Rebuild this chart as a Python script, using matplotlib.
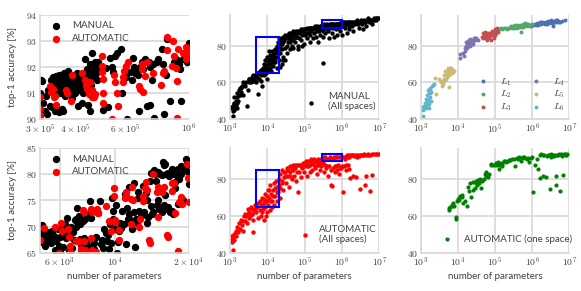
import matplotlib
matplotlib.use("Agg")
import matplotlib.pyplot as plt
import numpy as np
from matplotlib.patches import Rectangle

# --- zoomed panels: parameters in units of 1e5 / 1e3, accuracy in %
zoom_top_man = [
    (3.0,91.0),(3.03,91.5),(3.06,91.45),(3.08,90.6),(3.12,90.3),(3.15,90.9),(3.18,90.2),(3.2,91.1),(3.24,90.5),(3.27,91.5),
    (3.3,91.2),(3.33,91.6),(3.36,91.4),(3.39,91.1),(3.42,91.65),(3.45,91.3),(3.48,90.35),(3.5,91.7),(3.53,91.0),(3.55,91.5),
    (3.58,90.4),(3.6,91.2),(3.63,91.75),(3.66,91.4),(3.68,90.9),(3.7,91.6),(3.73,91.3),(3.76,91.85),(3.78,91.05),(3.8,91.5),
    (3.83,91.7),(3.86,91.2),(3.88,90.8),(3.9,91.45),(3.93,91.65),(3.96,91.3),(3.98,91.0),(4.0,91.55),(4.03,91.75),(4.05,91.25),
    (4.08,90.5),(4.1,91.5),(4.13,91.1),(4.15,91.7),(4.18,91.35),(4.2,90.6),(4.22,91.6),(4.25,91.0),(4.28,91.75),(4.3,91.4),
    (4.33,92.3),(4.36,91.15),(4.38,91.9),(4.4,91.5),(4.43,90.55),(4.46,91.95),(4.48,90.3),(4.5,92.1),(4.53,91.3),(4.56,92.55),
    (4.6,92.05),(4.63,91.6),(4.66,92.2),(4.7,91.85),(4.73,92.1),(4.76,91.5),(4.8,92.2),(5.0,90.35),(5.2,90.45),(5.3,92.35),
    (5.35,92.0),(5.4,91.8),(5.5,92.4),(5.6,92.55),(5.75,92.7),(5.8,91.0),(6.0,91.6),(6.05,90.0),(6.2,91.8),(6.35,92.35),
    (6.4,92.0),(6.55,91.9),(6.7,90.3),(6.85,92.2),(6.9,91.9),(7.0,92.3),(7.1,90.5),(7.25,92.2),(7.3,90.55),(7.4,91.5),
    (7.5,92.1),(7.55,90.05),(7.7,92.2),(7.8,92.3),(8.05,92.7),(8.1,92.1),(8.15,90.2),(8.3,91.7),(8.4,93.05),(8.6,90.7),
    (8.85,92.2),(9.0,92.3),(9.2,92.1),(9.3,91.9),(9.35,90.7),(9.5,92.3),(9.85,92.2),(10.0,92.9),
    (3.35,91.3),(3.4,91.5),(3.44,91.1),(3.47,91.55),(3.52,91.35),(3.56,91.7),(3.6,91.45),(3.64,91.25),(3.68,91.5),(3.72,91.7),
    (3.75,91.15),(3.79,91.3),(3.82,91.45),(3.85,91.55),(3.89,91.15),(3.92,91.35),(3.95,91.5),(3.99,91.25),(4.02,91.4),(4.06,91.6),
    (4.09,91.3),(4.12,91.55),(4.16,91.2),(4.19,91.55),(4.23,91.3),(4.26,91.5),(4.3,91.15),(4.34,91.6),(4.38,91.3),(4.42,91.7),
    (4.45,91.4),(4.49,91.75),(4.52,91.55),(4.56,91.85),(4.6,91.7),(4.64,91.95),(4.68,91.65),(4.72,91.95),(4.76,91.8),(4.8,91.9),
    (3.5,90.25),(3.4,90.3),(3.3,90.45),(3.6,90.3),(5.1,91.95),(6.3,91.5),(6.45,91.75),(6.6,91.7),(6.75,92.0),(7.3,92.0),
]
zoom_top_auto = [
    (3.0,90.85),(3.0,90.4),(3.0,90.1),(3.25,91.25),(3.28,91.05),(3.33,91.15),(3.36,90.85),(3.4,90.9),(3.42,90.55),(3.7,91.1),
    (3.72,91.0),(3.85,90.7),(3.9,91.7),(4.2,91.75),(4.3,91.5),(4.35,91.3),(4.4,91.15),(4.45,90.95),(4.5,91.4),(4.55,91.1),
    (4.55,90.85),(4.65,90.85),(4.68,90.95),(4.95,92.4),(4.95,92.05),(4.95,91.8),(4.98,91.55),(5.0,91.0),(5.0,90.6),(5.35,90.0),
    (5.45,91.7),(5.5,91.4),(5.6,91.0),(5.65,90.5),(5.85,91.4),(5.85,91.6),(5.9,91.85),(6.0,92.05),(6.1,92.2),(6.65,91.25),
    (6.75,91.15),(6.85,91.9),(6.85,92.1),(6.9,91.05),(7.0,91.65),(7.15,92.2),(7.5,91.75),(7.95,91.3),(8.1,91.75),(8.2,91.85),
    (8.35,93.15),(8.35,92.65),(8.75,92.05),(8.8,93.0),(8.85,92.4),(9.0,91.95),(9.05,91.45),(9.1,90.05),(9.15,92.7),(9.5,92.55),
    (9.75,92.3),(9.8,92.75),(10.0,92.6),(10.0,92.45),
]
zoom_bot_man = [
    (5.0,67.8),(5.05,69.2),(5.1,70.3),(5.15,68.5),(5.2,67.0),(5.25,66.3),(5.3,69.0),(5.35,67.5),(5.4,68.3),(5.5,68.9),
    (5.55,66.9),(5.6,69.2),(5.7,68.2),(5.75,65.5),(5.8,67.3),(5.9,69.5),(5.95,66.3),(6.0,65.2),(6.05,68.0),(6.15,69.5),
    (6.2,66.0),(6.3,70.5),(6.35,67.8),(6.4,71.6),(6.5,69.0),(6.55,65.3),(6.6,68.4),(6.7,70.0),(6.75,65.9),(6.85,67.5),
    (6.9,71.2),(7.0,69.9),(7.05,73.6),(7.1,70.8),(7.2,72.0),(7.25,67.7),(7.3,66.5),(7.35,65.5),(7.45,71.0),(7.55,67.9),
    (7.6,71.5),(7.7,67.2),(7.8,66.3),(7.9,72.3),(7.95,74.9),(8.0,71.7),(8.1,66.0),(8.2,67.5),(8.3,66.8),(8.45,68.0),
    (8.6,72.6),(8.75,74.8),(8.9,67.4),(9.0,65.9),(9.1,69.6),(9.3,67.3),(9.4,68.3),(9.5,65.7),(9.6,70.4),(9.7,66.8),
    (9.8,75.5),(9.9,72.9),(10.0,69.5),(10.1,74.2),(10.2,65.0),(10.3,67.0),(10.4,69.2),(10.6,69.7),(10.7,73.0),(10.9,70.4),
    (11.0,76.3),(11.1,66.7),(11.2,73.5),(11.3,71.5),(11.4,77.5),(11.6,71.2),(11.8,69.5),(12.0,78.4),(12.1,66.1),(12.3,70.6),
    (12.4,76.5),(12.6,73.0),(12.8,72.0),(13.0,77.7),(13.2,72.7),(13.4,76.4),(13.5,70.7),(13.7,71.9),(13.9,78.7),(14.1,80.2),
    (14.3,72.8),(14.5,80.8),(14.7,78.7),(14.9,74.2),(15.1,73.4),(15.3,80.0),(15.5,72.7),(15.7,82.4),(15.8,74.2),(16.0,82.0),
    (16.2,80.0),(16.4,73.7),(16.6,79.7),(16.8,72.7),(17.0,80.5),(17.2,72.3),(17.4,80.0),(17.6,77.3),(17.8,80.8),(18.0,74.3),
    (18.3,79.0),(18.6,81.5),(19.0,75.0),(19.4,82.9),(19.7,81.7),(20.0,78.1),
    (5.1,67.0),(5.3,68.0),(5.45,67.2),(5.65,67.8),(6.2,68.2),(6.8,69.0),(7.0,71.5),(7.25,70.5),(7.5,66.8),(7.75,65.6),
    (8.3,65.8),(8.85,66.6),(9.2,68.8),(9.85,71.5),(10.5,70.7),(11.4,72.3),(12.0,72.7),(12.2,71.5),(14.2,72.3),(14.6,80.0),
    (15.0,80.4),(15.5,79.8),(15.8,81.7),(16.0,73.4),(16.5,80.3),(17.0,81.0),(17.5,78.5),(18.0,81.0),(18.5,80.0),(19.2,81.0),
    (19.7,82.3),(19.9,80.5),(16.0,76.0),(15.0,75.0),(17.0,73.0),(18.0,79.5),(12.5,75.5),(13.5,75.0),(14.0,74.0),
]
zoom_bot_auto = [
    (5.0,67.5),(5.2,69.8),(5.75,70.0),(5.95,65.0),(6.1,70.6),(6.15,69.1),(6.5,69.5),(6.55,68.0),(6.6,66.3),(6.6,65.2),
    (7.0,67.3),(7.2,67.2),(7.3,65.7),(7.45,73.2),(7.5,72.8),(7.55,67.3),(7.6,65.5),(8.05,67.9),(8.05,73.4),(8.1,72.8),
    (8.1,65.6),(8.5,73.3),(8.55,72.6),(8.45,65.2),(9.2,73.9),(9.5,71.0),(9.7,69.1),(9.95,77.4),(9.95,75.9),(10.0,71.2),
    (10.05,70.8),(10.4,69.3),(10.45,67.5),(11.05,75.5),(11.1,76.5),(11.15,75.9),(11.65,70.5),(11.7,75.3),(11.8,77.5),(11.85,75.0),
    (12.6,70.0),(12.7,71.4),(13.0,74.8),(13.05,75.9),(13.25,77.3),(13.4,78.6),(13.5,76.9),(13.8,67.5),(13.85,66.8),(14.3,80.0),
    (14.9,76.5),(15.0,71.8),(15.0,77.5),(15.6,76.6),(15.9,77.5),(16.3,68.3),(16.4,68.0),(17.0,78.4),(17.1,76.8),(17.35,78.4),
    (17.5,72.6),(18.0,65.4),(18.2,74.7),(18.6,75.7),(18.8,74.3),(19.7,81.9),(19.85,79.3),(20.0,74.7),
]

# --- all spaces panels: log10(parameters), accuracy in %
man_all = [
    (3.0,46),(3.03,46.5),(3.07,44.5),(3.08,41.5),(3.08,47),(3.1,45),(3.1,48),(3.12,49),(3.13,46),(3.15,50),
    (3.17,47),(3.18,52),(3.2,46),(3.2,54),(3.22,50),(3.25,56),(3.27,53),(3.28,57),(3.3,55),(3.32,58),
    (3.35,53),(3.38,59),(3.4,58),(3.45,47),(3.47,56),(3.5,60),(3.52,62),(3.55,60),(3.58,62),(3.6,63),
    (3.62,60.5),(3.65,62),(3.68,61),(3.7,64),(3.7,60),(3.73,63),(3.75,53.5),(3.75,65),(3.78,62),(3.8,66),
    (3.82,64),(3.83,61),(3.85,65),(3.87,58),(3.88,68),(3.9,64),(3.9,70),(3.93,66),(3.95,72),(3.97,65),
    (3.98,68),(4.0,74),(4.0,62),(4.02,70),(4.03,66),(4.05,73),(4.07,68),(4.08,75),(4.1,66),(4.1,70),
    (4.12,74),(4.13,77),(4.15,69),(4.17,73),(4.18,76),(4.2,71),(4.2,78),(4.22,74),(4.25,80),(4.25,68),
    (4.27,76),(4.28,82),(4.3,72),(4.3,78),(4.32,84),(4.33,80),(4.35,76),(4.37,83),(4.38,78),(4.4,81),
    (4.42,85),(4.43,74),(4.45,83),(4.47,72),(4.48,79),(4.5,85),(4.52,76),(4.55,82),(4.57,84),(4.6,86),
    (4.6,78),(4.63,84),(4.65,80),(4.68,86),(4.7,83),(4.72,87),(4.75,82),(4.78,85),(4.8,87),(4.82,78),
    (4.85,84),(4.88,88),(4.9,83),(4.92,86),(4.95,88),(4.97,81),(5.0,86),(5.02,89),(5.05,84),(5.08,87),
    (5.1,89),(5.13,82),(5.15,86),(5.18,88),(5.2,90),(5.22,84),(5.25,87),(5.28,89),(5.3,90),(5.3,85),
    (5.33,88),(5.35,82),(5.38,90),(5.4,86),(5.43,89),(5.45,91),(5.48,88),(5.5,70.5),(5.5,85),(5.53,90),
    (5.55,87),(5.6,91),(5.62,88),(5.65,84),(5.68,90),(5.7,92),(5.72,87),(5.75,90),(5.78,85),(5.8,92),
    (5.83,89),(5.85,91),(5.88,86),(5.9,92),(5.93,90),(5.95,88),(5.98,92),(6.0,86),(6.02,91),(6.05,93),
    (6.08,90),(6.1,92),(6.13,87),(6.15,93),(6.18,91),(6.2,89),(6.25,93),(6.28,91),(6.3,88),(6.33,93),
    (6.35,92),(6.4,94),(6.43,92),(6.45,90),(6.5,94),(6.53,92),(6.55,89),(6.6,94),(6.63,93),(6.65,91),
    (6.7,95),(6.73,93),(6.78,94),(6.8,92),(6.85,95),(6.9,94),(6.95,95),(7.0,95),(5.17,49),(3.9,66),
    (4.05,77),(4.15,71),(4.35,68.5),(4.38,70),(4.42,72),(4.52,80),(4.62,82),(4.7,79),(4.82,80),(4.92,80),
    (3.12,52),(3.18,49),(3.23,53),(3.3,57),(3.36,60),(3.42,60),(3.5,62),(3.56,62),(3.62,64),(3.68,63),
    (3.72,65),(3.78,65),(3.83,67),(3.88,66),(3.92,68),(3.96,69),(4.0,67),(4.03,71),(4.06,70),(4.09,72),
    (4.12,71),(4.15,75),(4.18,72),(4.22,78),(4.25,77),(4.28,79),(4.32,81),(4.35,81),(4.38,84),(4.42,82),
    (4.45,85),(4.48,86),(4.52,84),(4.55,86),(4.58,87),(4.6,84),(4.63,87),(4.65,86),(4.68,88),(4.7,86),
    (4.73,85),(4.76,88),(4.8,85),(4.83,88),(4.86,87),(4.9,89),(4.93,88),(4.96,89),(5.0,89),(5.03,87),
    (5.06,90),(5.09,89),(5.12,90),(5.15,90),(5.18,90),(5.22,90),(5.25,90),(5.28,91),(5.32,91),(5.35,90),
    (5.38,88),(5.42,91),(5.46,90),(5.5,91),(5.53,92),(5.57,90),(5.6,92),(5.63,91),(5.67,92),(5.7,91),
    (5.73,92),(5.77,92),(5.8,91),(5.83,92),(5.87,92),(5.9,91),(5.93,92),(5.97,93),(6.0,92),(6.03,93),
    (6.07,92),(6.1,93),(6.13,92),(6.17,93),(6.2,92),(6.22,93),(6.27,92),(6.3,93),(6.37,93),(6.42,93),
    (6.47,93),(6.52,93),(6.57,93),(6.62,93),(6.67,94),(6.72,94),(6.75,94),(6.82,94),(6.87,94),(6.92,95),
]
auto_all = [
    (3.0,47),(3.02,49),(3.05,46),(3.07,48),(3.08,41.5),(3.1,50),(3.12,47),(3.15,52),(3.17,49),(3.2,54),
    (3.22,51),(3.25,56),(3.27,53),(3.3,58),(3.33,55),(3.35,52),(3.38,60),(3.4,57),(3.43,60),(3.45,56),
    (3.48,64),(3.5,59),(3.52,62),(3.55,65),(3.58,61),(3.6,64),(3.62,58),(3.62,51),(3.65,63),(3.68,66),
    (3.7,62),(3.72,65),(3.75,59),(3.78,67),(3.8,63),(3.82,60),(3.85,66),(3.87,70),(3.88,64),(3.9,58),
    (3.92,69),(3.93,65),(3.95,72),(3.97,60),(4.0,68),(4.0,62),(4.02,74),(4.03,66),(4.05,70),(4.07,63),
    (4.08,77),(4.1,72),(4.12,65),(4.13,68),(4.15,74),(4.17,78),(4.18,66),(4.2,71),(4.22,79),(4.25,76),
    (4.25,68),(4.28,73),(4.3,80),(4.32,77),(4.33,70),(4.35,83),(4.38,78),(4.4,85),(4.42,74),(4.45,81),
    (4.48,84),(4.5,78),(4.53,86),(4.55,82),(4.58,76),(4.6,87),(4.62,84),(4.65,80),(4.68,86),(4.7,88),
    (4.72,82),(4.75,86),(4.78,79),(4.8,88),(4.83,73),(4.85,84),(4.88,88),(4.9,81),(4.92,86),(4.95,89),
    (4.97,84),(5.0,87),(5.0,49.5),(5.03,90),(5.05,82),(5.08,87),(5.1,90),(5.13,84),(5.15,88),(5.18,91),
    (5.2,85),(5.23,89),(5.25,91),(5.28,86),(5.3,90),(5.33,83),(5.35,91),(5.38,88),(5.4,85),(5.43,91),
    (5.45,87),(5.48,92),(5.5,89),(5.53,84),(5.55,92),(5.58,86),(5.6,91),(5.63,82),(5.65,87),(5.68,92),
    (5.7,77),(5.72,76.5),(5.75,86),(5.78,92),(5.8,84),(5.83,92),(5.85,87),(5.88,85),(5.9,92),(5.93,83),
    (5.95,92),(5.98,86),(6.0,92),(6.02,72.8),(6.05,87),(6.08,91),(6.1,85),(6.13,93),(6.15,88),(6.18,85.5),
    (6.2,93),(6.22,80.5),(6.28,93),(6.3,81.5),(6.33,92.5),(6.37,81),(6.4,93),(6.45,92.5),(6.48,74.8),(6.52,93),
    (6.58,93.5),(6.63,76.7),(6.65,82),(6.7,93),(6.75,73.7),(6.8,82.2),(6.85,93.5),(6.9,94),(6.95,93.5),(7.0,94),
    (3.13,50),(3.24,53),(3.32,57),(3.4,61),(3.47,61),(3.53,60),(3.6,61),(3.67,64),(3.73,67),(3.8,68),
    (3.85,62),(3.9,67),(3.95,68),(4.0,71),(4.05,74),(4.1,68),(4.15,71),(4.2,75),(4.25,73),(4.3,75),
    (4.35,75),(4.4,79),(4.45,84),(4.5,82),(4.55,85),(4.6,82),(4.65,86),(4.7,85),(4.75,88),(4.8,84),
    (4.85,88),(4.9,87),(4.95,87),(5.0,89),(5.05,88),(5.1,87),(5.15,90),(5.2,89),(5.25,88),(5.3,87),
    (5.35,89),(5.4,90),(5.45,89),(5.5,91),(5.55,88),(5.6,87),(5.65,91),(5.7,85),(5.75,91),(5.8,87),
    (5.85,92),(5.9,88),(5.95,86),(6.0,87),(6.05,92),(6.1,88),(6.15,92),(6.2,92),(6.25,93),(6.3,93),
    (6.35,93),(6.4,92),(6.45,93),(6.5,93),(6.55,93),(6.6,93),(6.65,93),(6.7,94),(6.75,93),(6.8,94),
]

# --- right panels
level_names = ["$L_1$", "$L_2$", "$L_3$", "$L_4$", "$L_5$", "$L_6$"]
level_colors = ["#4c72b0", "#55a868", "#c44e52", "#8172b2", "#ccb974", "#64b5cd"]
level_points = [
    [(5.98,91),(6.02,91.5),(6.07,92),(6.1,91.5),(6.13,92.5),(6.17,92),(6.2,93),(6.23,92),(6.27,92.5),(6.3,93),(6.33,92.5),(6.37,93),(6.4,92),(6.43,93.5),(6.47,93),(6.5,93.5),(6.53,92.5),(6.55,91),(6.58,93.5),(6.6,93),(6.63,94),(6.66,93),(6.7,93.5),(6.75,93),(6.8,93.5),(6.88,94),
     (6.15,91.5),(6.25,93),(6.35,92),(6.45,92.5),(6.52,94),(6.56,93),(6.62,93),(6.68,94),(6.72,93)],
    [(5.1,89),(5.15,89.5),(5.2,89),(5.25,90),(5.3,89.5),(5.33,89),(5.37,90),(5.4,90.5),(5.45,90),(5.48,91),(5.52,90.5),(5.55,91.5),(5.58,90),(5.62,91),(5.65,90.5),(5.68,91.5),(5.7,87.8),(5.73,91),(5.76,92),(5.8,91.5),(5.83,91),(5.87,92),(5.9,92),(5.95,91.5),(6.0,92),
     (5.43,91),(5.5,89.5),(5.6,91.5),(5.7,90.5),(5.75,90.5),(5.8,92.5),(5.85,91.5),(5.92,91)],
    [(4.65,85),(4.67,87),(4.7,86),(4.72,84),(4.74,87.5),(4.76,85),(4.78,83),(4.8,86),(4.82,87),(4.84,85),(4.86,87),(4.88,83),(4.9,86),(4.92,88),(4.94,86),(4.96,84.5),(4.98,87),(5.0,89),(5.0,86),(5.03,88),(5.05,89.5),(5.08,87.5),
     (4.68,84.5),(4.73,86),(4.77,87),(4.8,84.5),(4.83,85.5),(4.87,85.5),(4.91,87),(4.95,87.5),(4.99,88),(5.02,87)],
    [(4.05,73.5),(4.06,75.5),(4.15,76),(4.17,74.5),(4.18,79),(4.2,77),(4.22,80),(4.23,82),(4.25,79),(4.27,81),(4.3,83),(4.32,80),(4.35,82),(4.38,83),(4.4,81),(4.43,84),(4.46,83),(4.5,84.5),(4.53,83),
     (4.24,80.5),(4.28,82.5),(4.33,82),(4.37,81),(4.42,82.5),(4.47,84),(4.33,83.5)],
    [(3.38,62.5),(3.42,53.5),(3.5,62),(3.55,60),(3.57,58),(3.6,59),(3.62,64),(3.64,61),(3.66,66),(3.68,62),(3.7,65),(3.72,63),(3.74,68),(3.76,64),(3.77,57.5),(3.78,67),(3.8,66),(3.82,68),(3.84,65),(3.86,67),(3.9,66),
     (3.58,60.5),(3.63,62),(3.67,64),(3.71,66),(3.75,66),(3.79,68),(3.83,66.5)],
    [(3.0,46.5),(3.05,45),(3.07,41.5),(3.1,47),(3.12,49),(3.13,46),(3.15,51),(3.17,48),(3.18,53),(3.2,50),(3.22,46),(3.22,54),(3.24,52),(3.25,57),(3.27,50),(3.28,55),(3.3,58),(3.33,58.5),(3.35,59),
     (3.09,46),(3.14,48.5),(3.16,50),(3.19,51),(3.21,48),(3.23,50),(3.26,54),(3.18,47),(3.2,56),(3.24,56)],
]
auto_one = [
    (3.72,47.5),(3.75,63),(3.77,64.5),(3.8,65),(3.83,65.5),(3.87,67),(3.9,65.5),(3.94,59.5),(3.95,58.5),(3.97,68),
    (4.0,69),(4.03,70),(4.07,71),(4.12,71.5),(4.15,67),(4.2,68),(4.25,65.5),(4.27,75.5),(4.3,73.5),(4.35,70.5),
    (4.4,74),(4.45,75),(4.48,79),(4.52,77),(4.55,79.5),(4.58,78),(4.62,75),(4.65,79),(4.7,80),(4.73,83),
    (4.77,84),(4.8,81),(4.83,83),(4.9,88.5),(4.95,88),(5.0,87.5),(5.05,88),(5.08,89.5),(5.12,85.5),(5.15,89),
    (5.2,87),(5.25,90),(5.3,89.5),(5.35,90),(5.4,90.5),(5.45,91),(5.55,87),(5.6,91.5),(5.65,92),(5.7,90),
    (5.75,92),(5.8,91.5),(5.85,91),(5.92,89.5),(6.0,92),(6.03,72.8),(6.07,88),(6.12,91),(6.17,85.5),(6.2,80.5),
    (6.22,93),(6.3,81.5),(6.33,93),(6.37,81),(6.4,92.5),(6.48,74.8),(6.5,92),(6.55,93),(6.6,92.5),(6.63,76.7),
    (6.65,82),(6.68,93),(6.72,93.5),(6.75,73.7),(6.8,92.5),(6.83,82.2),(6.85,93.5),(6.9,93),(6.95,93.5),
    (3.85,66),(4.02,68.5),(4.1,70.5),(4.32,78),(4.42,78.5),(4.5,78),(4.6,80),(4.75,82),(4.88,88),(5.02,89),
    (5.1,88),(5.18,88.5),(5.28,90),(5.38,90.5),(5.5,91),(5.62,91),(5.72,91.5),(5.78,92),(5.9,91.5),(5.97,91.5),
    (6.25,93.5),(6.28,93),(6.42,93),(6.46,93),(6.52,93.5),(6.62,93),(6.7,93),(6.78,93.5),(6.88,94),(6.92,93),
]
W, H = 581, 291
GRAY = "#404040"
plt.rcParams.update({
    "font.family": ["Lato", "DejaVu Sans"],
    "mathtext.fontset": "cm",
    "font.size": 7,
    "text.color": GRAY,
    "axes.labelcolor": GRAY,
    "xtick.color": GRAY,
    "ytick.color": GRAY,
})
LABEL = 7

def make_ax(x0, x1, y0, y1):
    ax = fig.add_axes([x0 / W, 1 - y1 / H, (x1 - x0) / W, (y1 - y0) / H])
    ax.set_axisbelow(True)
    ax.grid(True, color="#d8d8d8", lw=1.2)
    for s in ["top", "right"]:
        ax.spines[s].set_visible(False)
    for s in ["left", "bottom"]:
        ax.spines[s].set_color("#d8d8d8")
        ax.spines[s].set_linewidth(1.2)
    ax.tick_params(length=0, labelsize=7, pad=2)
    return ax

def wide_axes(ax, bottom):
    ax.set_xscale("log")
    ax.set_xlim(1e3, 1e7)
    ax.set_ylim(40, 97)
    ax.set_xticks([1e3, 1e4, 1e5, 1e6, 1e7])
    ax.set_xticklabels(["$10^{%d}$" % e for e in [3, 4, 5, 6, 7]])
    ax.minorticks_off()
    ax.set_yticks([40, 60, 80])
    ax.set_yticklabels(["$40$", "$60$", "$80$"])
    if bottom:
        ax.set_xlabel("number of parameters", fontsize=LABEL, labelpad=2)

def add_boxes(ax):
    ax.add_patch(Rectangle((5e3, 65), 1.5e4, 20, fill=False, ec="blue", lw=1.5, zorder=5))
    ax.add_patch(Rectangle((3e5, 90), 7e5, 4, fill=False, ec="blue", lw=1.5, zorder=5))

def left_legend(ax):
    ax.legend(loc="upper left", bbox_to_anchor=(-0.027, 1.04), frameon=False, fontsize=LABEL,
              handletextpad=0.6, labelspacing=0.4, borderpad=0.6)

fig = plt.figure(figsize=(5.81, 2.91), dpi=100)

# left column
ax = make_ax(40, 189, 14.7, 119)
ax.set_xscale("log")
ax.scatter(*zip(*[(a * 1e5, b) for a, b in zoom_top_man]), s=28, c="black", lw=0, label="MANUAL")
ax.scatter(*zip(*[(a * 1e5, b) for a, b in zoom_top_auto]), s=28, c="red", lw=0, label="AUTOMATIC")
ax.set_xlim(3e5, 1e6)
ax.set_ylim(90, 94)
ax.set_xticks([3e5, 4e5, 6e5, 1e6])
ax.set_xticklabels([r"$3\times10^{5}$", r"$4\times10^{5}$", r"$6\times10^{5}$", "$10^{6}$"])
ax.minorticks_off()
ax.xaxis.grid(False)
ax.set_yticks([90, 91, 92, 93, 94])
ax.set_yticklabels(["$%d$" % v for v in [90, 91, 92, 93, 94]])
ax.set_ylabel("top-1 accuracy [%]", fontsize=LABEL)
ax.yaxis.set_label_coords(-0.155, 0.5)
left_legend(ax)

ax = make_ax(40, 189, 148, 252.7)
ax.set_xscale("log")
ax.scatter(*zip(*[(a * 1e3, b) for a, b in zoom_bot_man]), s=28, c="black", lw=0, label="MANUAL")
ax.scatter(*zip(*[(a * 1e3, b) for a, b in zoom_bot_auto]), s=28, c="red", lw=0, label="AUTOMATIC")
ax.set_xlim(5e3, 2e4)
ax.set_ylim(65, 85)
ax.set_xticks([6e3, 1e4, 2e4])
ax.set_xticklabels([r"$6\times10^{3}$", "$10^{4}$", r"$2\times10^{4}$"])
ax.minorticks_off()
ax.set_yticks([65, 70, 75, 80, 85])
ax.set_yticklabels(["$%d$" % v for v in [65, 70, 75, 80, 85]])
ax.set_xlabel("number of parameters", fontsize=LABEL, labelpad=2)
ax.set_ylabel("top-1 accuracy [%]", fontsize=LABEL)
ax.yaxis.set_label_coords(-0.155, 0.5)
left_legend(ax)

# middle column
ax = make_ax(230, 379.3, 14.7, 119)
ax.scatter(*zip(*[(10 ** a, b) for a, b in man_all]), s=10, c="black", lw=0)
wide_axes(ax, False)
add_boxes(ax)
ax.text(0.656, 0.22, "MANUAL", transform=ax.transAxes, va="center", fontsize=LABEL)
ax.text(0.656, 0.125, "(All spaces)", transform=ax.transAxes, va="center", fontsize=LABEL)

ax = make_ax(230, 379.3, 148, 252.7)
ax.scatter(*zip(*[(10 ** a, b) for a, b in auto_all]), s=10, c="red", lw=0)
wide_axes(ax, True)
add_boxes(ax)
ax.text(0.597, 0.223, "AUTOMATIC", transform=ax.transAxes, va="center", fontsize=LABEL)
ax.text(0.597, 0.124, "(All spaces)", transform=ax.transAxes, va="center", fontsize=LABEL)

# right column
ax = make_ax(420.7, 569.3, 14.7, 119)
for name, color, pts in zip(level_names, level_colors, level_points):
    ax.scatter(*zip(*[(10 ** a, b) for a, b in pts]), s=8, c=color, lw=0, label=name)
wide_axes(ax, False)
ax.legend(loc="lower right", bbox_to_anchor=(1.03, -0.03), frameon=False, ncol=2, fontsize=LABEL,
          handletextpad=0.8, columnspacing=1.45, labelspacing=0.13)

ax = make_ax(420.7, 569.3, 148, 252.7)
ax.scatter(*zip(*[(10 ** a, b) for a, b in auto_one]), s=9, c="green", lw=0)
wide_axes(ax, True)
ax.text(0.29, 0.124, "AUTOMATIC (one space)", transform=ax.transAxes, va="center", fontsize=LABEL)

fig.savefig("out.png", dpi=100)
